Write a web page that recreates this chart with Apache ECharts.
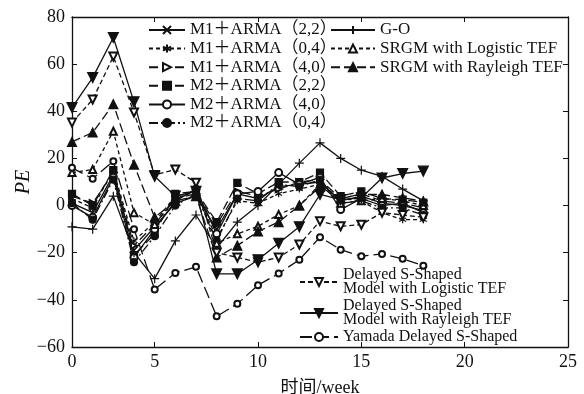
<!DOCTYPE html>
<html>
<head>
<meta charset="utf-8">
<script src="https://cdn.jsdelivr.net/npm/echarts@6/dist/echarts.min.js"></script>
<style>
  html, body { margin: 0; padding: 0; background: #fff; }
  #chart { width: 584px; height: 394px; }
</style>
</head>
<body>
<div id="chart"></div>
<script>
// x positions (week index as plotted), the first tick sits on week 1 but reads "0"
const weeks = [1, 2, 3, 4, 5, 6, 7, 8, 9, 10, 11, 12, 13, 14, 15, 16, 17, 18];
const xTickValues = [1, 5, 10, 15, 20, 25];
const xTickLabels = ['0', '5', '10', '15', '20', '25'];

// PE per week
const m1Arma22 = [1, -3, 13, -19, -9, 1, 4, -10, 5, 3, 8, 9, 10, 2, 4, 1, 0, -2];
const m1Arma04 = [3, -1, 15, -15, -7, 4, 6, -14, 2, 1, 5, 7, 9, 3, 2, -3, -6, -6];
const m1Arma40 = [4, 1, 14, -17, -8, 3, 5, -8, 6, 4, 7, 10, 11, 3, 5, 2, 1, -1];
const m2Arma22 = [5, 0, 15, -21, -12, 5, 6, -7, 9.6, 5, 10, 10, 14, 4, 6, 3, 2.5, 1.3];
const m2Arma40 = [0, -5, 12, -22, -10, 2, 7, -12, 5, 6, 14, 9, 12, -1.7, 3, 0, 1, -3];
const m2Arma04 = [1, -6, 11, -24, -13, 0, 5, -15, 3, 2, 9, 8, 11, 1, 2, -1, -1, -4];
const goModel = [-9, -10, 4, -20, -31, -15, -4, -18, -7, 0, 9, 18, 26.6, 20, 15, 12.4, 7, 2];
const srgmLogistic = [14, 15.3, 31.5, -3, -8, 3, 6, -16, -12, -8.8, -3.8, 0, 9, 1, 2, 3, 2, 0];
const srgmRayleigh = [27, 31, 43, 17.4, -5, 2, 4, -22, -17, -11, -7, 0, 8, 3, 4.7, 4.7, 3.3, 1.8];
const dssLogistic = [35.2, 45, 63.2, 39.5, 13, 15.3, 9.7, -20, -22, -24, -22, -16.5, -6.6, -8.8, -8.1, -3, -4, -5];
const dssRayleigh = [41.6, 54.3, 71.3, 44, 12.4, 4, 6, -29, -29, -23, -16, -9, 4.7, 2.5, 3.3, 11.7, 13.6, 14.6];
const yamadaDss = [16, 11.4, 18.8, -10, -35.6, -28.6, -26, -47, -41.7, -33.8, -28.8, -23, -13.4, -18.7, -21.5, -20.5, -22.6, -25.5];

const FONT = '"Liberation Serif", "Noto Sans CJK SC", serif';
const INK = '#111';

const SYM = {
    cross: 'path://M0,0L10,10M10,0L0,10',
    star: 'path://M5,0L5,10M0,2.5L10,7.5M10,2.5L0,7.5',
    plus: 'path://M5,0L5,10M0,5L10,5',
};

function makeSeries(name, values, symbol, dash, opts) {
    opts = opts || {};
    return {
        name: name,
        type: 'line',
        data: weeks.map((w, i) => [w, values[i]]),
        symbol: symbol,
        symbolSize: opts.size || 7,
        symbolRotate: opts.rotate || 0,
        showAllSymbol: true,
        lineStyle: { color: INK, width: 1.3, type: dash },
        itemStyle: { color: INK, borderColor: INK, borderWidth: opts.border || 1.2 },
        emphasis: { disabled: true },
        animation: false,
        z: opts.z || 2,
    };
}

const N1 = 'M1＋ARMA（2,2）';
const N2 = 'M1＋ARMA（0,4）';
const N3 = 'M1＋ARMA（4,0）';
const N4 = 'M2＋ARMA（2,2）';
const N5 = 'M2＋ARMA（4,0）';
const N6 = 'M2＋ARMA（0,4）';
const N7 = 'G-O';
const N8 = 'SRGM with Logistic TEF';
const N9 = 'SRGM with Rayleigh TEF';
const N10 = 'Delayed S-Shaped Model with Logistic TEF';
const N11 = 'Delayed S-Shaped Model with Rayleigh TEF';
const N12 = 'Yamada Delayed S-Shaped';

const series = [
    makeSeries(N1, m1Arma22, SYM.cross, 'solid'),
    makeSeries(N2, m1Arma04, SYM.star, [4, 3]),
    makeSeries(N3, m1Arma40, 'emptyTriangle', [9, 4], { rotate: -90, size: 6 }),
    makeSeries(N4, m2Arma22, 'rect', [9, 4]),
    makeSeries(N5, m2Arma40, 'emptyCircle', 'solid'),
    makeSeries(N6, m2Arma04, 'circle', [9, 3, 2, 3]),
    makeSeries(N7, goModel, SYM.plus, 'solid', { size: 9 }),
    makeSeries(N8, srgmLogistic, 'emptyTriangle', [4, 3]),
    makeSeries(N9, srgmRayleigh, 'triangle', [9, 4], { size: 9 }),
    makeSeries(N10, dssLogistic, 'emptyTriangle', [5, 3], { rotate: 180, size: 8 }),
    makeSeries(N11, dssRayleigh, 'triangle', 'solid', { rotate: 180, size: 10 }),
    makeSeries(N12, yamadaDss, 'emptyCircle', [12, 5], { size: 6 }),
];

const topLegendText = { color: INK, fontFamily: FONT, fontSize: 17, lineHeight: 18 };
const lowLegendText = { color: INK, fontFamily: FONT, fontSize: 16, lineHeight: 14 };

const chart = echarts.init(document.getElementById('chart'), null, { renderer: 'canvas' });

chart.setOption({
    backgroundColor: '#fff',
    animation: false,
    grid: { left: 72, right: 16, top: 17, bottom: 47, outerBoundsMode: 'none' },
    legend: [
        {
            data: [N1, N2, N3, N4, N5, N6],
            orient: 'vertical', left: 148, top: 21, padding: 0,
            itemWidth: 36, itemHeight: 10, itemGap: 0.6,
            textStyle: topLegendText, selectedMode: false,
        },
        {
            data: [N7, N8, N9],
            orient: 'vertical', left: 330, top: 21, padding: 0,
            itemWidth: 44, itemHeight: 10, itemGap: 0.6,
            textStyle: topLegendText, selectedMode: false,
        },
        {
            data: [N10, N11, N12],
            orient: 'vertical', left: 299, top: 267, padding: 0,
            itemWidth: 38, itemHeight: 10, itemGap: 1,
            formatter: name => name.replace(' Model', '\nModel'),
            textStyle: lowLegendText,
            selectedMode: false,
        },
    ],
    xAxis: [
        {
            type: 'value', min: 1, max: 25,
            name: '时间/week', nameLocation: 'middle', nameGap: 32,
            nameTextStyle: { color: INK, fontFamily: FONT, fontSize: 18 },
            axisLine: { onZero: false, lineStyle: { color: INK, width: 1.3 } },
            axisTick: { inside: true, length: 5, customValues: xTickValues, lineStyle: { color: INK } },
            axisLabel: {
                customValues: xTickValues,
                formatter: v => xTickLabels[xTickValues.indexOf(v)],
                color: INK, fontFamily: FONT, fontSize: 18, margin: 6,
            },
            splitLine: { show: false },
        },
        {
            type: 'value', min: 1, max: 25, position: 'top',
            axisLine: { onZero: false, lineStyle: { color: INK, width: 1.3 } },
            axisTick: { inside: true, length: 5, customValues: xTickValues, lineStyle: { color: INK } },
            axisLabel: { show: false },
            splitLine: { show: false },
        },
    ],
    yAxis: [
        {
            type: 'value', min: -60, max: 80, interval: 20,
            name: 'PE', nameLocation: 'middle', nameGap: 38, nameMoveOverlap: false,
            nameTextStyle: { color: INK, fontFamily: FONT, fontSize: 20, fontStyle: 'italic' },
            axisLine: { show: true, onZero: false, lineStyle: { color: INK, width: 1.3 } },
            axisTick: { show: true, inside: true, length: 5, lineStyle: { color: INK } },
            axisLabel: {
                color: INK, fontFamily: FONT, fontSize: 18, margin: 7,
                formatter: v => String(v).replace('-', '\u2212'),
            },
            splitLine: { show: false },
        },
        {
            type: 'value', min: -60, max: 80, interval: 20, position: 'right',
            axisLine: { show: true, onZero: false, lineStyle: { color: INK, width: 1.3 } },
            axisTick: { show: true, inside: true, length: 5, lineStyle: { color: INK } },
            axisLabel: { show: false },
            splitLine: { show: false },
        },
    ],
    series: series,
});
</script>
</body>
</html>
